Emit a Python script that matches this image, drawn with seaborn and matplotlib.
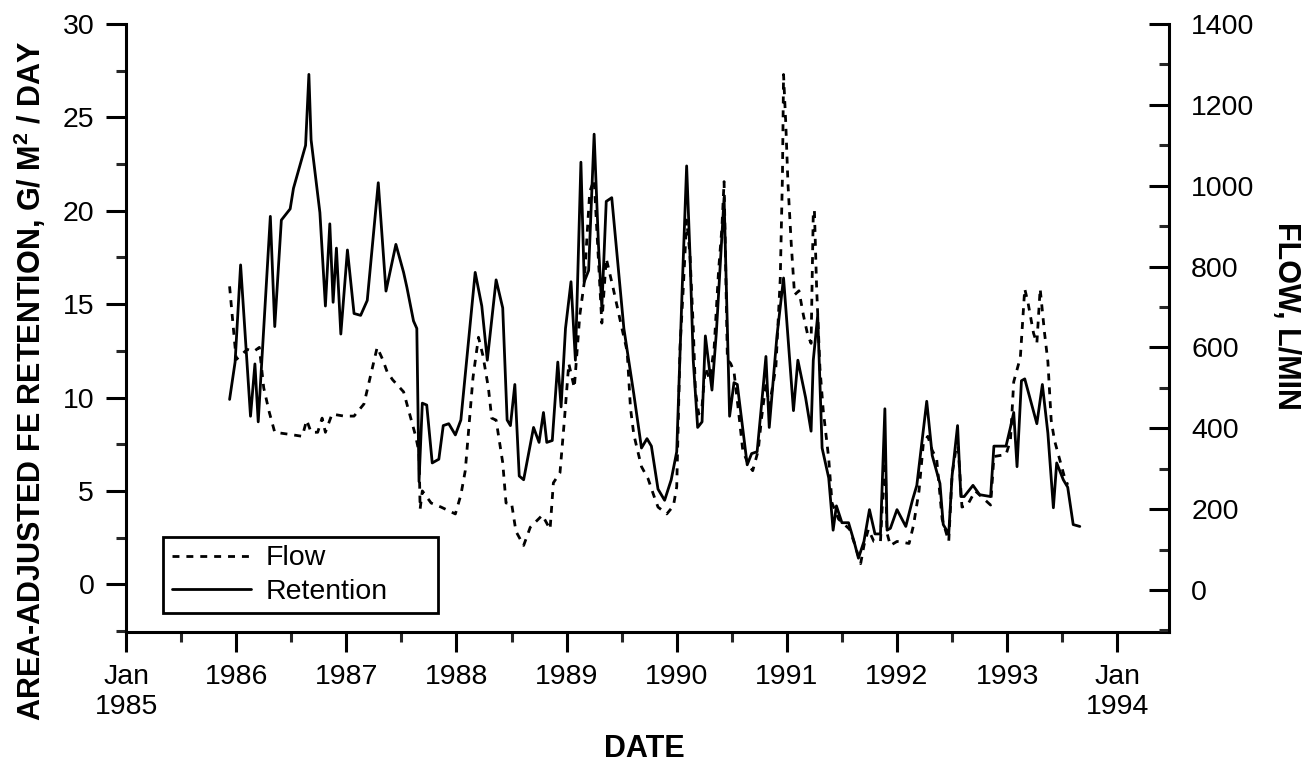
import matplotlib
matplotlib.use('Agg')
import matplotlib.pyplot as plt
import seaborn as sns
from matplotlib.ticker import MultipleLocator

# Retention (left axis), decimal years
ret_year = [1985.94, 1985.99, 1986.04, 1986.13, 1986.17, 1986.20, 1986.31, 1986.35, 1986.41, 1986.49,
            1986.52, 1986.63, 1986.66, 1986.68, 1986.76, 1986.81, 1986.85, 1986.88, 1986.91, 1986.95,
            1987.01, 1987.07, 1987.13, 1987.19, 1987.29, 1987.36, 1987.45, 1987.52, 1987.55, 1987.61,
            1987.64, 1987.66, 1987.69, 1987.73, 1987.78, 1987.84, 1987.88, 1987.93, 1987.99, 1988.04,
            1988.17, 1988.23, 1988.28, 1988.36, 1988.42, 1988.46, 1988.49, 1988.53, 1988.57, 1988.61,
            1988.70, 1988.75, 1988.79, 1988.82, 1988.87, 1988.92, 1988.95, 1988.99, 1989.04, 1989.08,
            1989.13, 1989.16, 1989.20, 1989.25, 1989.29, 1989.32, 1989.36, 1989.41, 1989.52, 1989.61,
            1989.68, 1989.73, 1989.77, 1989.83, 1989.89, 1989.95, 1990.00, 1990.05, 1990.09, 1990.12,
            1990.15, 1990.19, 1990.23, 1990.26, 1990.32, 1990.36, 1990.43, 1990.48, 1990.52, 1990.55,
            1990.64, 1990.68, 1990.73, 1990.77, 1990.81, 1990.84, 1990.91, 1990.97, 1991.06, 1991.10,
            1991.17, 1991.22, 1991.24, 1991.28, 1991.32, 1991.38, 1991.42, 1991.45, 1991.50, 1991.56,
            1991.61, 1991.65, 1991.70, 1991.75, 1991.80, 1991.85, 1991.89, 1991.91, 1991.94, 1992.00,
            1992.08, 1992.14, 1992.18, 1992.27, 1992.32, 1992.39, 1992.42, 1992.47, 1992.50, 1992.55,
            1992.58, 1992.61, 1992.69, 1992.75, 1992.85, 1992.88, 1992.99, 1993.03, 1993.06, 1993.09,
            1993.13, 1993.16, 1993.27, 1993.32, 1993.37, 1993.42, 1993.45, 1993.51, 1993.55, 1993.60,
            1993.66]
ret_val = [9.9, 11.9, 17.1, 9.0, 11.8, 8.7, 19.7, 13.8, 19.5, 20.1,
           21.2, 23.5, 27.3, 23.8, 19.9, 14.9, 19.3, 15.1, 18.0, 13.4,
           17.9, 14.5, 14.4, 15.2, 21.5, 15.7, 18.2, 16.7, 15.9, 14.1,
           13.7, 5.5, 9.7, 9.6, 6.5, 6.7, 8.5, 8.6, 8.0, 8.8,
           16.7, 14.9, 12.0, 16.3, 14.8, 8.8, 8.5, 10.7, 5.8, 5.6,
           8.4, 7.6, 9.2, 7.6, 7.7, 11.9, 9.5, 13.7, 16.2, 12.0,
           22.6, 16.2, 16.8, 24.1, 18.1, 14.8, 20.5, 20.7, 13.7, 10.2,
           7.3, 7.8, 7.4, 5.1, 4.5, 5.6, 7.1, 15.9, 22.4, 17.7,
           12.0, 8.4, 8.7, 13.3, 10.4, 13.5, 20.7, 9.0, 10.8, 10.7,
           6.4, 7.0, 7.1, 9.6, 12.2, 8.4, 13.3, 16.4, 9.3, 12.0,
           10.0, 8.2, 12.0, 14.4, 7.3, 5.7, 2.9, 4.2, 3.3, 3.3,
           2.3, 1.4, 2.3, 4.0, 2.7, 2.7, 9.4, 2.9, 3.0, 4.0,
           3.1, 4.5, 5.3, 9.8, 6.9, 5.4, 3.2, 2.7, 5.8, 8.5,
           4.7, 4.7, 5.3, 4.8, 4.7, 7.4, 7.4, 8.4, 9.2, 6.3,
           10.9, 11.0, 8.6, 10.7, 8.1, 4.1, 6.5, 5.6, 5.2, 3.2,
           3.1]

# Flow (right axis, L/min), decimal years
flow_year = [1985.94, 1986.00, 1986.10, 1986.16, 1986.21, 1986.25, 1986.30, 1986.35, 1986.48, 1986.60,
             1986.64, 1986.68, 1986.74, 1986.78, 1986.81, 1986.87, 1986.98, 1987.07, 1987.16, 1987.22,
             1987.28, 1987.33, 1987.37, 1987.42, 1987.52, 1987.58, 1987.63, 1987.66, 1987.67, 1987.69,
             1987.77, 1987.86, 1987.99, 1988.04, 1988.08, 1988.11, 1988.15, 1988.20, 1988.24, 1988.29,
             1988.32, 1988.36, 1988.42, 1988.45, 1988.50, 1988.54, 1988.61, 1988.67, 1988.78, 1988.85,
             1988.88, 1988.94, 1988.98, 1989.02, 1989.07, 1989.12, 1989.16, 1989.21, 1989.25, 1989.29,
             1989.32, 1989.36, 1989.42, 1989.50, 1989.55, 1989.58, 1989.61, 1989.64, 1989.68, 1989.74,
             1989.79, 1989.83, 1989.91, 1989.97, 1990.00, 1990.03, 1990.06, 1990.09, 1990.12, 1990.15,
             1990.17, 1990.20, 1990.23, 1990.26, 1990.30, 1990.34, 1990.38, 1990.41, 1990.43, 1990.46,
             1990.49, 1990.52, 1990.57, 1990.60, 1990.65, 1990.69, 1990.74, 1990.77, 1990.81, 1990.84,
             1990.90, 1990.94, 1990.96, 1990.97, 1990.99, 1991.01, 1991.04, 1991.07, 1991.11, 1991.15,
             1991.19, 1991.22, 1991.24, 1991.25, 1991.27, 1991.30, 1991.33, 1991.38, 1991.41, 1991.47,
             1991.57, 1991.62, 1991.67, 1991.70, 1991.74, 1991.79, 1991.85, 1991.89, 1991.91, 1991.94,
             1992.00, 1992.11, 1992.15, 1992.20, 1992.24, 1992.28, 1992.32, 1992.36, 1992.41, 1992.47,
             1992.50, 1992.55, 1992.59, 1992.64, 1992.71, 1992.77, 1992.85, 1992.88, 1992.99, 1993.03,
             1993.06, 1993.12, 1993.16, 1993.19, 1993.24, 1993.27, 1993.30, 1993.34, 1993.37, 1993.40,
             1993.43, 1993.48, 1993.52, 1993.55]
flow_val = [751, 570, 595, 590, 600, 500, 440, 390, 385, 380,
            420, 390, 390, 425, 390, 435, 430, 430, 460, 530,
            600, 570, 540, 520, 490, 430, 380, 340, 200, 245,
            215, 205, 188, 235, 295, 395, 525, 625, 580, 500,
            425, 420, 315, 215, 215, 145, 110, 155, 185, 150,
            265, 290, 420, 560, 500, 680, 760, 985, 1015, 810,
            660, 820, 750, 650, 590, 450, 385, 350, 305, 275,
            235, 205, 188, 208, 255, 600, 750, 915, 830, 650,
            490, 435, 455, 550, 520, 600, 790, 895, 1010, 570,
            560, 540, 420, 345, 310, 295, 345, 425, 510, 455,
            550, 770, 1025, 1275, 1155, 1005, 855, 730, 740, 680,
            630, 610, 935, 940, 750, 550, 445, 325, 215, 175,
            150, 110, 65, 110, 150, 120, 120, 335, 140, 110,
            120, 115, 160, 245, 365, 380, 345, 325, 175, 120,
            285, 375, 205, 210, 245, 230, 210, 330, 335, 370,
            515, 575, 745, 710, 635, 610, 745, 635, 565, 420,
            370, 320, 280, 260]

year_ticks = [1985, 1986, 1987, 1988, 1989, 1990, 1991, 1992, 1993, 1994]
year_labels = ['Jan\n1985', '1986', '1987', '1988', '1989', '1990', '1991', '1992', '1993', 'Jan\n1994']

sns.set_style('ticks')
plt.rcParams['font.family'] = ['Liberation Sans', 'DejaVu Sans']
plt.rcParams['mathtext.fontset'] = 'custom'
plt.rcParams['mathtext.rm'] = 'Liberation Sans'
plt.rcParams['mathtext.bf'] = 'Liberation Sans:bold'
plt.rcParams['text.color'] = 'black'
plt.rcParams['axes.labelcolor'] = 'black'

fig = plt.figure(figsize=(13.05, 7.68), dpi=100)
ax = fig.add_axes([0.0966, 0.1771, 0.7992, 0.7917])
ax2 = ax.twinx()

sns.lineplot(x=ret_year, y=ret_val, ax=ax, color='black', linewidth=2.0)
sns.lineplot(x=flow_year, y=flow_val, ax=ax2, color='black', linewidth=2.0,
             linestyle=(0, (2.5, 2.5)))

ax.set_xlim(1985, 1994.47)
ax.set_ylim(-2.55, 30)
ax2.set_ylim(-104, 1400)

ax.set_xticks(year_ticks)
ax.set_xticklabels(year_labels)
ax.xaxis.set_minor_locator(MultipleLocator(0.5))
ax.yaxis.set_major_locator(MultipleLocator(5))
ax.yaxis.set_minor_locator(MultipleLocator(2.5))
ax2.yaxis.set_major_locator(MultipleLocator(200))
ax2.yaxis.set_minor_locator(MultipleLocator(100))

ax.tick_params(axis='both', which='major', direction='out', length=14.4, width=2.2,
               labelsize=20.5, pad=8.5, colors='black')
ax.tick_params(axis='both', which='minor', direction='out', length=7.2, width=2.2)
ax2.tick_params(axis='y', which='major', direction='in', length=14.4, width=2.2,
                labelsize=20.5, pad=16, colors='black')
ax2.tick_params(axis='y', which='minor', direction='in', length=7.2, width=2.2)

for a in (ax, ax2):
    a.spines['top'].set_visible(False)
    for s in ('left', 'right', 'bottom'):
        a.spines[s].set_linewidth(2.2)
        a.spines[s].set_color('black')
ax.spines['right'].set_visible(False)
ax2.spines['left'].set_visible(False)
ax2.spines['bottom'].set_visible(False)

ax.set_ylabel(r'AREA-ADJUSTED FE RETENTION, G/ M$^{\mathbf{2}}$ / DAY',
              fontsize=22, fontweight='bold', va='center', ha='center')
ax.yaxis.set_label_coords(-0.092, 0.414)
ax2.set_ylabel('FLOW, L/MIN', fontsize=22, fontweight='bold', rotation=270,
               va='center', ha='center')
ax2.yaxis.set_label_coords(1.112, 0.52)
ax.set_xlabel('DATE', fontsize=22, fontweight='bold', va='center')
ax.xaxis.set_label_coords(0.4965, -0.192)

leg = ax2.legend([ax2.lines[0], ax.lines[0]], ['Flow', 'Retention'],
                 loc='lower left', bbox_to_anchor=(0.0355, 0.031, 0.2637, 0.1),
                 mode='expand', fontsize=20.5, frameon=True, fancybox=False,
                 handlelength=2.8, handletextpad=0.5, labelspacing=0.25,
                 borderpad=0.3, borderaxespad=0)
leg.get_frame().set_edgecolor('black')
leg.get_frame().set_linewidth(2.0)
leg.get_frame().set_alpha(1)
for t in leg.get_texts():
    t.set_color('black')

fig.savefig('out.png', dpi=100)
